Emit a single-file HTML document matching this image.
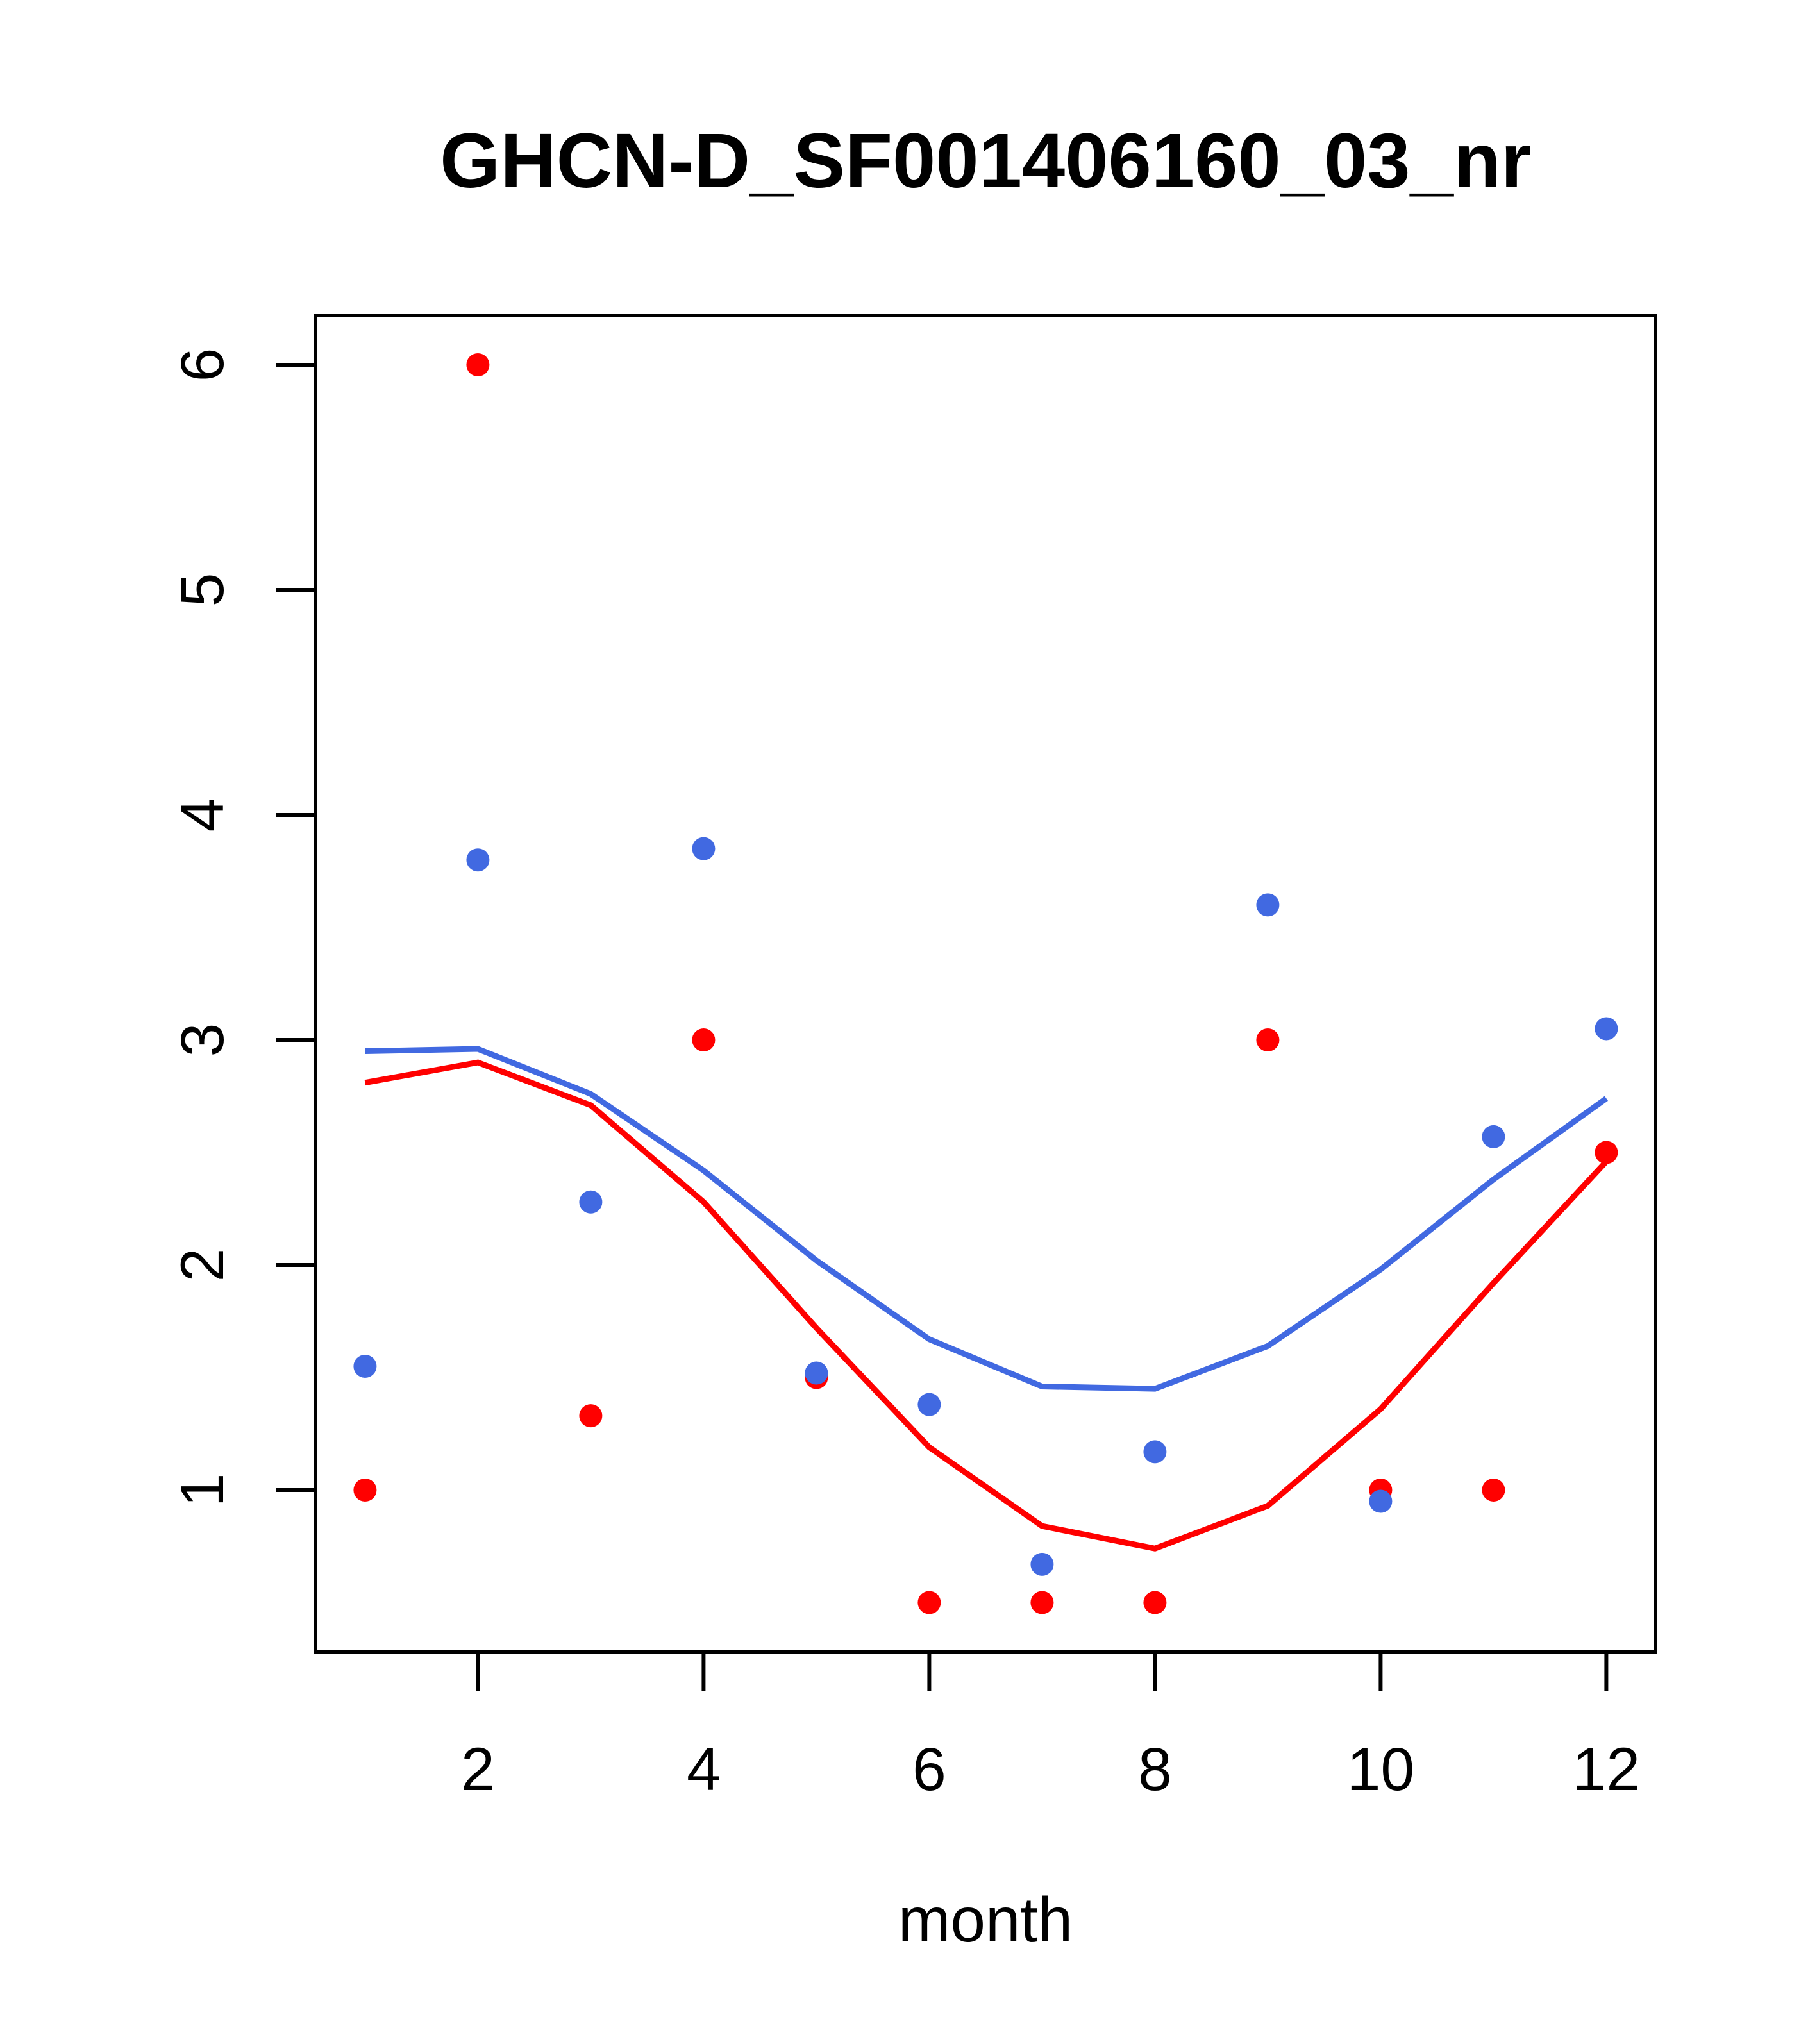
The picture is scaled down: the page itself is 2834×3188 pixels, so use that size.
<!DOCTYPE html>
<html><head><meta charset="utf-8"><style>body{margin:0;background:#fff}svg{display:block}</style></head>
<body>
<svg id="chart" width="2834" height="3188" xmlns="http://www.w3.org/2000/svg" font-family="Liberation Sans, Arial, sans-serif">
<script>
const months=[1,2,3,4,5,6,7,8,9,10,11,12];
const redPoints=[1,6,1.33,3,1.5,0.5,0.5,0.5,3,1,1,2.5];
const bluePoints=[1.55,3.8,2.28,3.85,1.52,1.38,0.67,1.17,3.6,0.95,2.57,3.05];
const redLine=[2.81,2.90,2.71,2.28,1.72,1.19,0.84,0.74,0.93,1.36,1.92,2.46];
const blueLine=[2.95,2.96,2.76,2.42,2.02,1.67,1.46,1.45,1.64,1.98,2.38,2.74];
const xTicks=[2,4,6,8,10,12];
const yTicks=[1,2,3,4,5,6];
</script>
<text x="1537" y="292" font-size="121" font-weight="bold" text-anchor="middle">GHCN-D_SF001406160_03_nr</text>
<rect x="492" y="492" width="2090" height="2084" fill="none" stroke="#000" stroke-width="6"/>
<g id="axes"></g><g id="lines"></g><g id="pts"></g>
<text x="1537" y="3028" font-size="98" text-anchor="middle">month</text>
<script>
const NS="http://www.w3.org/2000/svg";
const X=m=>569.4+(m-1)*176.0;
const Y=v=>2324-(v-1)*351;
const ax=document.getElementById('axes');
function mk(tag,at,parent){const e=document.createElementNS(NS,tag);for(const k in at)e.setAttribute(k,at[k]);parent.appendChild(e);return e;}
xTicks.forEach(t=>{
  const l=mk('line',{x1:X(t),x2:X(t),y1:2576,y2:2637,stroke:'#000','stroke-width':6},ax);
  
  
  const tx=mk('text',{x:X(t),y:2792,'font-size':95,'text-anchor':'middle'},ax);tx.textContent=t;
  
  
});
yTicks.forEach(t=>{
  const l=mk('line',{x1:431,x2:492,y1:Y(t),y2:Y(t),stroke:'#000','stroke-width':6},ax);
  
  
  const tx=mk('text',{x:0,y:0,'font-size':95,'text-anchor':'middle',transform:`translate(348,${Y(t)}) rotate(-90)`},ax);tx.textContent=t;
  
  
});
const lg=document.getElementById('lines');
[[blueLine,'#4169e1','blue-smooth-line'],[redLine,'#ff0000','red-smooth-line']].forEach(([d,c,n])=>{
  const p=mk('polyline',{points:d.map((v,i)=>X(months[i])+','+Y(v)).join(' '),fill:'none',stroke:c,'stroke-width':9},lg);
  
  
});
const pg=document.getElementById('pts');
[[redPoints,'#ff0000','red-point'],[bluePoints,'#4169e1','blue-point']].forEach(([d,c,n])=>{
  d.forEach((v,i)=>{
    const e=mk('circle',{cx:X(months[i]),cy:Y(v),r:18,fill:c},pg);
    
    
  });
});
</script>
</svg>
</body></html>
